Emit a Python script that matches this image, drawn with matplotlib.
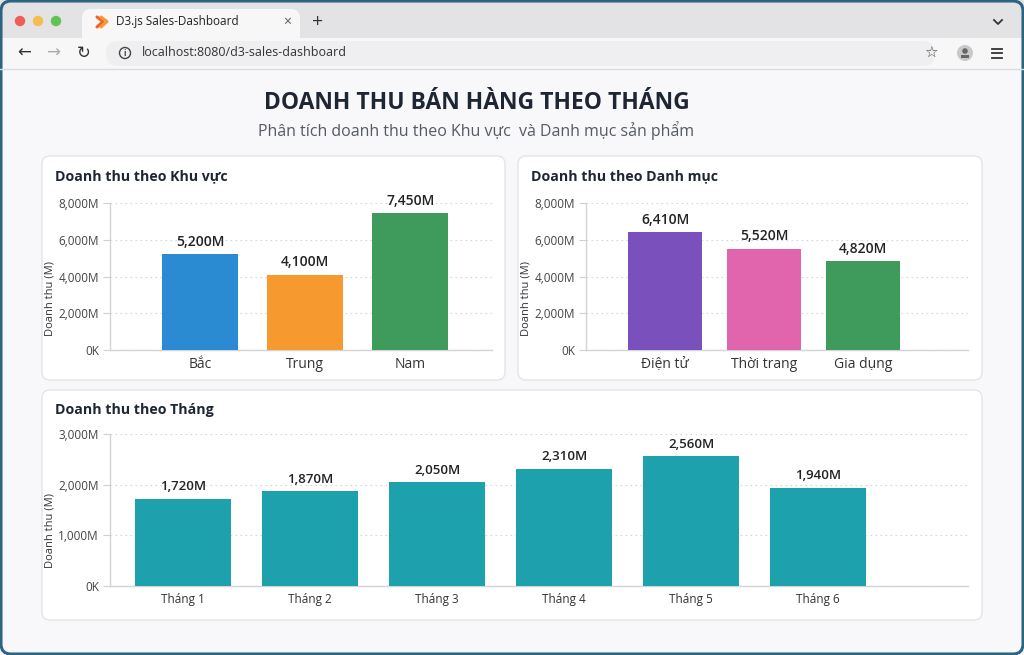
import matplotlib
matplotlib.use("Agg")
import matplotlib.pyplot as plt
from matplotlib.patches import FancyBboxPatch, Rectangle, Circle
from matplotlib.ticker import FuncFormatter, FixedLocator

plt.rcParams['font.family'] = ['Open Sans', 'Noto Sans', 'DejaVu Sans']

# --- data ---
regions = ["Bắc", "Trung", "Nam"]
region_sales = [5200, 4100, 7450]
region_colors = ["#2a8bd2", "#f6992f", "#3f9b5c"]

categories = ["Điện tử", "Thời trang", "Gia dụng"]
category_sales = [6410, 5520, 4820]
category_colors = ["#7a50bd", "#e065ac", "#3f9b5c"]

months = ["Tháng 1", "Tháng 2", "Tháng 3", "Tháng 4", "Tháng 5", "Tháng 6"]
month_sales = [1720, 1870, 2050, 2310, 2560, 1940]
month_color = "#1ca1ad"

W, H = 1024, 655
PAGE = "#f8f8fa"
TXT = "#1f2633"

fig = plt.figure(figsize=(W / 100, H / 100), dpi=100)
fig.patch.set_facecolor("white")

bg = fig.add_axes([0, 0, 1, 1])
bg.set_xlim(0, W)
bg.set_ylim(H, 0)
bg.axis("off")


def rbox(x, y, w, h, r, **kw):
    p = FancyBboxPatch((x, y), w, h, boxstyle="round,pad=0,rounding_size=%d" % r, **kw)
    bg.add_patch(p)
    return p


# browser chrome
bg.add_patch(Rectangle((0, 0), W, H, fc=PAGE, ec="none"))
bg.add_patch(Rectangle((0, 0), W, 38, fc="#e3e3e5", ec="none"))
rbox(82, 9, 218, 40, 9, fc="#f7f7f8", ec="none")
bg.add_patch(Rectangle((0, 38), W, 30, fc="#f7f7f8", ec="none"))
bg.plot([0, W], [68.5, 68.5], color="#dcdcde", lw=1)
for cx, c in [(20, "#ee5e57"), (38, "#f5bd4e"), (56, "#5fc356")]:
    bg.add_patch(Circle((cx, 21), 5.2, fc=c, ec="none"))
# d3 icon
bg.plot([97, 103, 97], [17, 21.5, 27], color="#f0642a", lw=2.2, solid_capstyle="round")
bg.plot([101, 107, 101], [17, 21.5, 27], color="#f59b3a", lw=2.2, solid_capstyle="round")
bg.text(116, 22, "D3.js Sales-Dashboard", fontsize=8.5, color="#222", va="center")
bg.text(287, 22, "×", fontsize=10, color="#555", va="center", ha="center")
bg.text(318, 22, "+", fontsize=14, color="#333", va="center", ha="center")
bg.plot([994, 998, 1002], [20, 24, 20], color="#333", lw=1.3)

bg.text(24, 53, "←", fontsize=12, color="#333", va="center", ha="center", family="DejaVu Sans")
bg.text(53, 53, "→", fontsize=12, color="#aaa", va="center", ha="center", family="DejaVu Sans")
bg.text(84, 53, "↻", fontsize=12, color="#333", va="center", ha="center", family="DejaVu Sans")
rbox(106, 41, 829, 25, 12, fc="#efeff1", ec="none")
bg.add_patch(Circle((125, 53), 5.5, fc="none", ec="#444", lw=1))
bg.text(125, 53.5, "i", fontsize=6, color="#444", va="center", ha="center", weight="bold")
bg.text(142, 53, "localhost:8080/d3-sales-dashboard", fontsize=9, color="#333", va="center")
bg.text(931, 53, "☆", fontsize=11, color="#444", va="center", ha="center", family="DejaVu Sans")
bg.add_patch(Circle((965, 53), 8, fc="#c9c9cc", ec="none"))
bg.add_patch(Circle((965, 51), 2.8, fc="#666", ec="none"))
bg.add_patch(Rectangle((961, 55), 8, 3, fc="#666", ec="none"))
for yy in [48.5, 53, 57.5]:
    bg.plot([992, 1002], [yy, yy], color="#333", lw=1.3)

bg.add_patch(FancyBboxPatch((1, 1), W - 2, H - 2, boxstyle="round,pad=0,rounding_size=10",
                            fc="none", ec="#2d6482", lw=2.2))

# page headings
bg.text(477, 103, "DOANH THU BÁN HÀNG THEO THÁNG", fontsize=16.5, weight="bold",
        color=TXT, ha="center", va="center")
bg.text(476, 131, "Phân tích doanh thu theo Khu vực  và Danh mục sản phẩm", fontsize=11.5,
        color="#555a63", ha="center", va="center")

# cards
card_kw = dict(fc="white", ec="#e4e5e9", lw=1)
rbox(42, 156, 463, 224, 8, **card_kw)
rbox(518, 156, 464, 224, 8, **card_kw)
rbox(42, 390, 940, 230, 8, **card_kw)
bg.text(55, 176, "Doanh thu theo Khu vực", fontsize=10.2, weight="bold", color=TXT, va="center")
bg.text(531, 176, "Doanh thu theo Danh mục", fontsize=10.2, weight="bold", color=TXT, va="center")
bg.text(55, 410, "Doanh thu theo Tháng", fontsize=10.2, weight="bold", color=TXT, va="center")


def px_axes(x0, y0, x1, y1):
    return fig.add_axes([x0 / W, 1 - y1 / H, (x1 - x0) / W, (y1 - y0) / H])


def fmt(v, pos=None):
    return "0K" if v == 0 else "{:,.0f}M".format(v)


def bar_chart(ax, labels, values, colors, ymax, ticks, xlim, width, fs_val, fs_x):
    x = range(len(labels))
    ax.bar(x, values, width=width, color=colors, zorder=3)
    ax.set_xlim(*xlim)
    ax.set_ylim(0, ymax)
    ax.yaxis.set_major_locator(FixedLocator(ticks))
    ax.yaxis.set_major_formatter(FuncFormatter(fmt))
    ax.set_xticks(list(x))
    ax.set_xticklabels(labels, fontsize=fs_x, color="#333")
    ax.tick_params(axis="x", length=0, pad=5)
    ax.tick_params(axis="y", length=5, color="#cfd0d6", labelsize=8.5, labelcolor="#444", pad=3)
    ax.set_facecolor("none")
    for s in ["top", "right"]:
        ax.spines[s].set_visible(False)
    for s in ["left", "bottom"]:
        ax.spines[s].set_color("#d3d4da")
        ax.spines[s].set_linewidth(1)
    ax.grid(axis="y", linestyle=(0, (1.5, 3)), color="#d6d7dc", lw=0.8, zorder=0)
    for i, v in enumerate(values):
        ax.annotate("{:,}M".format(v), (i, v), xytext=(0, 4), textcoords="offset points",
                    ha="center", va="bottom", fontsize=fs_val, color="#222", weight="semibold")


ax1 = px_axes(110, 203, 492, 350)
bar_chart(ax1, regions, region_sales, region_colors, 8000, [0, 2000, 4000, 6000, 8000],
          (-0.86, 2.78), 0.72, 10, 10)
ax2 = px_axes(586, 203, 968, 350)
bar_chart(ax2, categories, category_sales, category_colors, 8000, [0, 2000, 4000, 6000, 8000],
          (-0.80, 3.06), 0.75, 10, 10)
ax3 = px_axes(110, 434, 968, 586)
bar_chart(ax3, months, month_sales, [month_color] * len(months), 3000, [0, 1000, 2000, 3000],
          (-0.575, 6.18), 0.75, 9.5, 8.5)

ylab = dict(rotation=90, fontsize=8, color="#333", ha="center", va="center")
fig.text(50 / W, 1 - 298 / H, "Doanh thu (M)", **ylab)
fig.text(526 / W, 1 - 298 / H, "Doanh thu (M)", **ylab)
fig.text(50 / W, 1 - 530 / H, "Doanh thu (M)", **ylab)

fig.savefig("out.png", dpi=100)
